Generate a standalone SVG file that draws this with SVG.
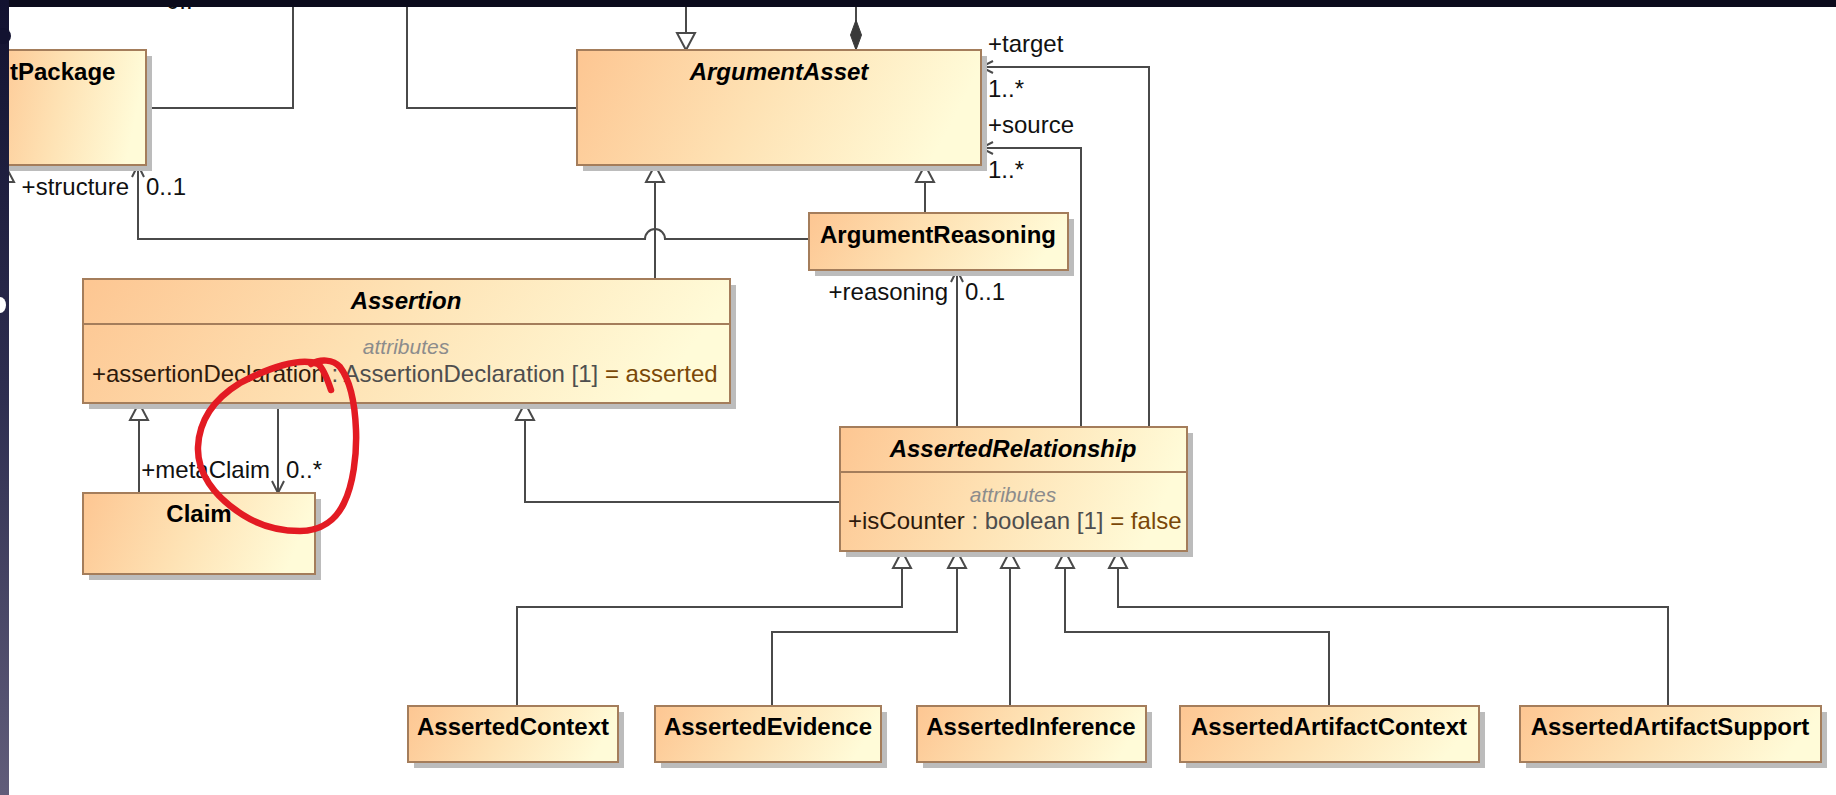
<svg xmlns="http://www.w3.org/2000/svg" width="1836" height="795" viewBox="0 0 1836 795">
<defs>
<linearGradient id="boxFill" x1="0" y1="0" x2="1" y2="0.15">
<stop offset="0" stop-color="#fdc692"/>
<stop offset="0.5" stop-color="#fee2b4"/>
<stop offset="1" stop-color="#fffbd8"/>
</linearGradient>
<linearGradient id="bezel" x1="0" y1="0" x2="0" y2="1">
<stop offset="0" stop-color="#121230"/>
<stop offset="0.5" stop-color="#2e2e50"/>
<stop offset="1" stop-color="#615d7a"/>
</linearGradient>
<marker id="gen" markerUnits="userSpaceOnUse" viewBox="-1 -11 21 22" markerWidth="21" markerHeight="22" refX="17" refY="0" orient="auto">
<path d="M0,-9 L17,0 L0,9 Z" fill="#ffffff" stroke="#4a4a4a" stroke-width="2" stroke-linejoin="miter"/>
</marker>
<marker id="open" markerUnits="userSpaceOnUse" viewBox="-1 -8 14 16" markerWidth="14" markerHeight="16" refX="12" refY="0" orient="auto">
<path d="M0,-6 L12,0 L0,6" fill="none" stroke="#4a4a4a" stroke-width="2"/>
</marker>
<marker id="comp" markerUnits="userSpaceOnUse" viewBox="-1 -7 33 14" markerWidth="33" markerHeight="14" refX="30" refY="0" orient="auto">
<path d="M0,0 L15,-5.5 L30,0 L15,5.5 Z" fill="#3a3a3a" stroke="#3a3a3a" stroke-width="1"/>
</marker>
</defs>
<style>
.box{fill:url(#boxFill);stroke:#a47d5b;stroke-width:2}
.shadow{fill:#bcbcbc}
.div{stroke:#a47d5b;stroke-width:2}
.name{font-family:"Liberation Sans",Arial,sans-serif;font-size:24px;font-weight:bold;fill:#000;text-anchor:middle}
.abs{font-style:italic}
.comp{font-family:"Liberation Sans",Arial,sans-serif;font-size:21px;font-style:italic;fill:#8c8c8c;text-anchor:middle}
.attr{font-family:"Liberation Sans",Arial,sans-serif;font-size:24px;fill:#2e1a0c}
.typ{fill:#4e4e4e}
.val{fill:#7a4808}
.lbl{font-family:"Liberation Sans",Arial,sans-serif;font-size:24px;fill:#111}
.end{text-anchor:end}
.ln{fill:none;stroke:#4a4a4a;stroke-width:2}
</style>
<rect x="0" y="0" width="1836" height="795" fill="#ffffff"/>

<g id="connectors">
<path class="ln" d="M146,108 H293 V0"/>
<path class="ln" d="M407,0 V108 H577"/>
<path class="ln" d="M686,0 V50" marker-end="url(#gen)"/>
<path class="ln" d="M856,0 V50" marker-end="url(#comp)"/>
<path class="ln" d="M1149,427 V67 H981" marker-end="url(#open)"/>
<path class="ln" d="M1081,427 V148 H981" marker-end="url(#open)"/>
<path class="ln" d="M957,427 V270" marker-end="url(#open)"/>
<path class="ln" d="M840,502 H525 V403" marker-end="url(#gen)"/>
<path class="ln" d="M655,279 V165" marker-end="url(#gen)"/>
<path class="ln" d="M925,213 V165" marker-end="url(#gen)"/>
<path class="ln" d="M809,239 H665 A10,10 0 0 0 645,239 H138 V165" marker-end="url(#open)"/>
<path class="ln" d="M139,493 V403" marker-end="url(#gen)"/>
<path class="ln" d="M278,403 V493" marker-end="url(#open)"/>
<path class="ln" d="M5,190 V165" marker-end="url(#gen)"/>
<path class="ln" d="M517,706 V607 H902 V551" marker-end="url(#gen)"/>
<path class="ln" d="M772,706 V632 H957 V551" marker-end="url(#gen)"/>
<path class="ln" d="M1010,706 V551" marker-end="url(#gen)"/>
<path class="ln" d="M1329,706 V632 H1065 V551" marker-end="url(#gen)"/>
<path class="ln" d="M1668,706 V607 H1118 V551" marker-end="url(#gen)"/>
<text class="lbl" x="166" y="9">0..*</text>
<text class="lbl" x="988" y="52">+target</text>
<text class="lbl" x="988" y="97">1..*</text>
<text class="lbl" x="988" y="133">+source</text>
<text class="lbl" x="988" y="178">1..*</text>
<text class="lbl end" x="129" y="195">+structure</text>
<text class="lbl" x="146" y="195">0..1</text>
<text class="lbl end" x="948" y="300">+reasoning</text>
<text class="lbl" x="965" y="300">0..1</text>
<text class="lbl end" x="270" y="478">+metaClaim</text>
<text class="lbl" x="286" y="478">0..*</text>
</g>

<g id="ArgumentPackage">
<rect class="shadow" x="-4" y="56" width="156" height="115"/>
<rect class="box" x="-10" y="50" width="156" height="115"/>
<text class="name" x="10" y="80" style="text-anchor:start">tPackage</text>
</g>

<g id="ArgumentAsset">
<rect class="shadow" x="583" y="56" width="404" height="115"/>
<rect class="box" x="577" y="50" width="404" height="115"/>
<text class="name abs" x="779" y="80">ArgumentAsset</text>
</g>

<g id="ArgumentReasoning">
<rect class="shadow" x="815" y="219" width="259" height="57"/>
<rect class="box" x="809" y="213" width="259" height="57"/>
<text class="name" x="938" y="243">ArgumentReasoning</text>
</g>

<g id="Assertion">
<rect class="shadow" x="89" y="285" width="647" height="124"/>
<rect class="box" x="83" y="279" width="647" height="124"/>
<line class="div" x1="83" y1="324" x2="730" y2="324"/>
<text class="name abs" x="406" y="309">Assertion</text>
<text class="comp" x="406" y="354">attributes</text>
<text class="attr" x="92" y="382">+assertionDeclaration<tspan class="typ"> : AssertionDeclaration [1] </tspan><tspan class="val">= asserted</tspan></text>
</g>

<g id="Claim">
<rect class="shadow" x="89" y="499" width="232" height="81"/>
<rect class="box" x="83" y="493" width="232" height="81"/>
<text class="name" x="199" y="522">Claim</text>
</g>

<g id="AssertedRelationship">
<rect class="shadow" x="846" y="433" width="347" height="124"/>
<rect class="box" x="840" y="427" width="347" height="124"/>
<line class="div" x1="840" y1="472" x2="1187" y2="472"/>
<text class="name abs" x="1013" y="457">AssertedRelationship</text>
<text class="comp" x="1013" y="502">attributes</text>
<text class="attr" x="848" y="529">+isCounter<tspan class="typ"> : boolean [1] </tspan><tspan class="val">= false</tspan></text>
</g>

<g id="AssertedContext">
<rect class="shadow" x="414" y="712" width="210" height="56"/>
<rect class="box" x="408" y="706" width="210" height="56"/>
<text class="name" x="513" y="735">AssertedContext</text>
</g>

<g id="AssertedEvidence">
<rect class="shadow" x="661" y="712" width="226" height="56"/>
<rect class="box" x="655" y="706" width="226" height="56"/>
<text class="name" x="768" y="735">AssertedEvidence</text>
</g>

<g id="AssertedInference">
<rect class="shadow" x="923" y="712" width="229" height="56"/>
<rect class="box" x="917" y="706" width="229" height="56"/>
<text class="name" x="1031" y="735">AssertedInference</text>
</g>

<g id="AssertedArtifactContext">
<rect class="shadow" x="1186" y="712" width="299" height="56"/>
<rect class="box" x="1180" y="706" width="299" height="56"/>
<text class="name" x="1329" y="735">AssertedArtifactContext</text>
</g>

<g id="AssertedArtifactSupport">
<rect class="shadow" x="1526" y="712" width="301" height="56"/>
<rect class="box" x="1520" y="706" width="301" height="56"/>
<text class="name" x="1670" y="735">AssertedArtifactSupport</text>
</g>

<g id="annotation">
<path d="M331,390 C327,378 323,368 318,364 C300,357 268,368 240,383 C214,399 199,421 198,447 C197,472 213,496 243,515 C262,527 281,531 300,531 C321,531 336,520 344,503 C353,485 357,455 356,430 C355,405 350,380 340,367 C333,359 320,359 311,364" fill="none" stroke="#e31b23" stroke-width="6.5" stroke-linecap="round" stroke-linejoin="round"/>
</g>

<g id="bezel">
<rect x="0" y="0" width="1836" height="7" fill="#0b0b1c"/>
<rect x="0" y="0" width="9" height="795" fill="url(#bezel)"/>
<ellipse cx="3" cy="36" rx="8" ry="8" fill="#121230"/>
<ellipse cx="0" cy="305" rx="6" ry="8" fill="#ffffff"/>
</g>
</svg>
